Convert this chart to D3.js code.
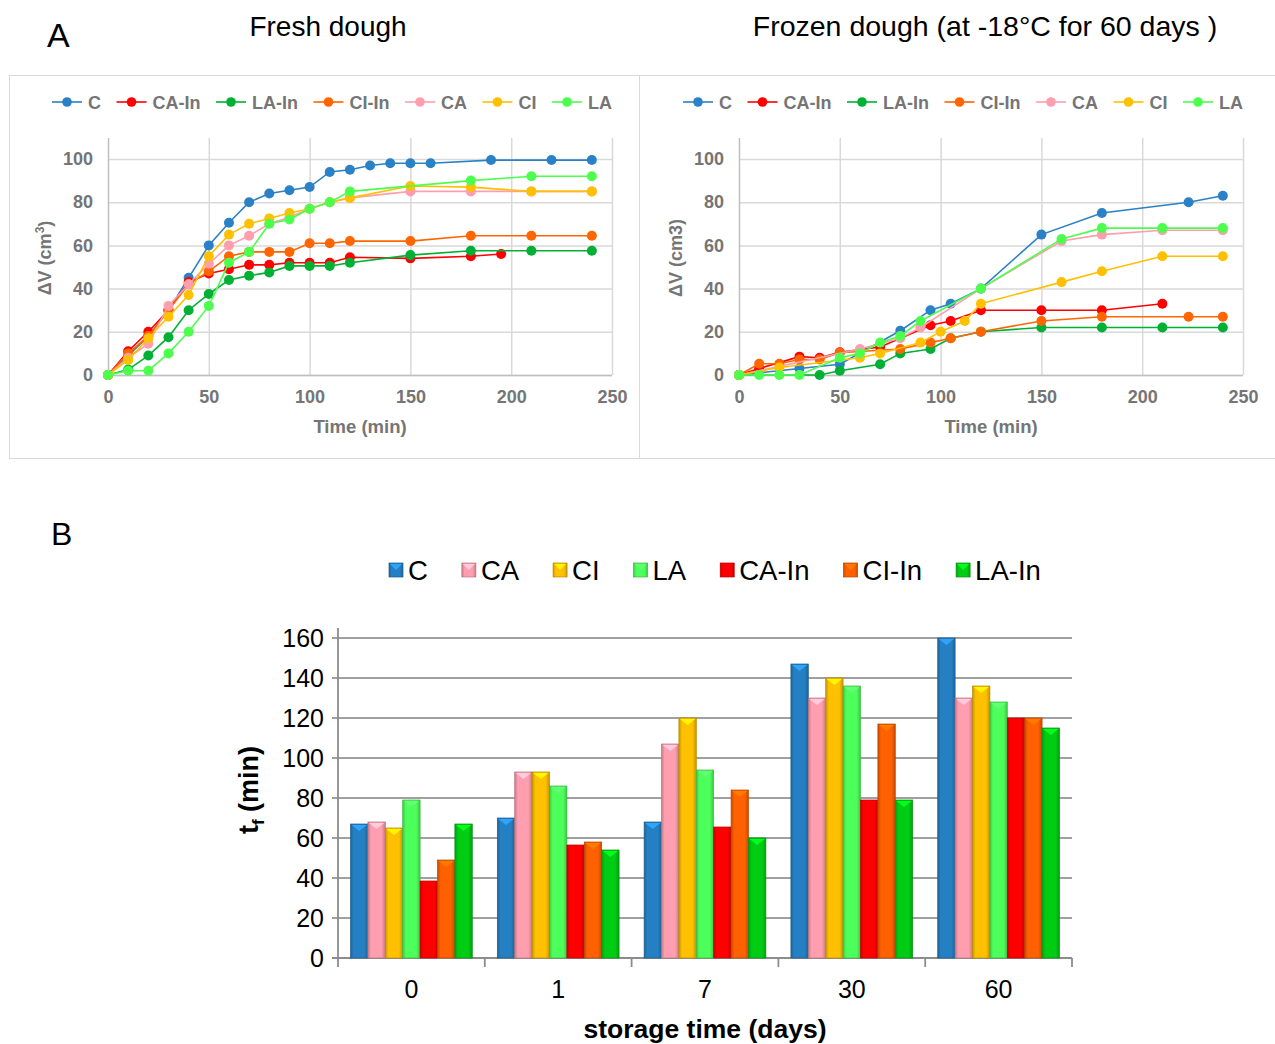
<!DOCTYPE html>
<html>
<head>
<meta charset="utf-8">
<script src="https://cdn.jsdelivr.net/npm/d3@7"></script>
<style>
body { margin: 0; background: #fff; }
svg { font-family: "Liberation Sans", Arial, sans-serif; }
</style>
</head>
<body>
<svg id="chart" width="1275" height="1044"></svg>
<script>
// fresh dough, [time (min), dV (cm3)]
var freshC = [[0,0],[10,9],[20,18],[30,30],[40,45],[50,60],[60,70.5],[70,80],[80,84],[90,85.5],[100,87],[110,94],[120,95],[130,97],[140,98],[150,98],[160,98],[190,99.5],[220,99.5],[240,99.5]];
var freshCAIn = [[0,0],[10,11],[20,20],[30,30],[40,43],[50,47],[60,49],[70,51],[80,51],[90,52],[100,52],[110,52],[120,54.5],[150,54],[180,55],[195,56]];
var freshLAIn = [[0,0],[10,2.5],[20,9],[30,17.5],[40,30],[50,37.5],[60,44],[70,46],[80,47.5],[90,50.5],[100,50.5],[110,50.5],[120,52],[150,55.5],[180,57.5],[210,57.5],[240,57.5]];
var freshCIIn = [[0,0],[10,10],[20,18],[30,30],[40,42],[50,48],[60,55],[70,57],[80,57],[90,57],[100,61],[110,61],[120,62],[150,62],[180,64.5],[210,64.5],[240,64.5]];
var freshCA = [[0,0],[10,8],[20,14.5],[30,32],[40,42],[50,51.5],[60,60],[70,64.5],[80,70],[90,73],[100,77],[110,80],[120,82],[150,85],[180,85],[210,85],[240,85]];
var freshCI = [[0,0],[10,7],[20,17],[30,27],[40,37],[50,55],[60,65],[70,70],[80,72.5],[90,75],[100,77],[110,80],[120,82],[150,87.5],[180,87],[210,85],[240,85]];
var freshLA = [[0,0],[10,2],[20,2],[30,10],[40,20],[50,32],[60,52],[70,57],[80,70],[90,72],[100,77],[110,80],[120,85],[180,90],[210,92],[240,92]];

// frozen dough (-18 C, 60 days), [time (min), dV (cm3)]
var frozenC = [[0,0],[30,3],[50,5],[80,20.5],[95,30],[105,33],[120,40],[150,65],[180,75],[223,80],[240,83]];
var frozenCAIn = [[0,0],[10,3],[30,8.5],[40,8],[50,10.5],[70,13],[95,23],[105,25],[120,30],[150,30],[180,30],[210,33]];
var frozenLAIn = [[0,0],[40,0],[50,2],[70,5],[80,10],[95,12],[105,17],[120,20],[150,22],[180,22],[210,22],[240,22]];
var frozenCIIn = [[0,0],[10,5.2],[20,5.2],[30,7.2],[40,7.2],[50,10.3],[80,12],[95,15],[105,17],[120,20],[150,25],[180,27],[223,27],[240,27]];
var frozenCA = [[0,0],[60,12],[80,17],[90,22],[120,40],[160,62],[180,65],[210,67],[240,67]];
var frozenCI = [[0,0],[20,3.5],[60,8],[70,10],[90,15],[100,20],[112,25],[120,33],[160,43],[180,48],[210,55],[240,55]];
var frozenLA = [[0,0],[10,0],[20,0],[30,0],[50,8],[60,10],[70,15],[80,18],[90,25],[120,40],[160,63],[180,68],[210,68],[240,68]];

var lineNames = ["C", "CA-In", "LA-In", "CI-In", "CA", "CI", "LA"];
var lineColors = ["#2a81c5", "#ff0000", "#00b035", "#ff6600", "#ff9eae", "#ffc000", "#4dff4d"];
var timeTicks = [0, 50, 100, 150, 200, 250];
var volTicks = [0, 20, 40, 60, 80, 100];

// fermentation time t_f (min) per storage day
var days = ["0", "1", "7", "30", "60"];
var barC = [67, 70, 68, 147, 160];
var barCA = [68, 93, 107, 130, 130];
var barCI = [65, 93, 120, 140, 136];
var barLA = [79, 86, 94, 136, 128];
var barCAIn = [38.5, 56.5, 65.5, 79, 120];
var barCIIn = [49, 58, 84, 117, 120];
var barLAIn = [67, 54, 60, 79, 115];
var barNames = ["C", "CA", "CI", "LA", "CA-In", "CI-In", "LA-In"];
var barColors = ["#2580c3", "#ff9eae", "#ffc000", "#4dff5a", "#ff0000", "#ff6000", "#00cc14"];
var tfTicks = [0, 20, 40, 60, 80, 100, 120, 140, 160];

var svg = d3.select("#chart");
var grey = "#757575";

// panel frames
svg.append("rect").attr("x", 9.5).attr("y", 75.5).attr("width", 630).attr("height", 383)
	.attr("fill", "none").attr("stroke", "#d9d9d9");
svg.append("rect").attr("x", 639.5).attr("y", 75.5).attr("width", 640).attr("height", 383)
	.attr("fill", "none").attr("stroke", "#d9d9d9");

svg.append("text").attr("x", 47).attr("y", 47).attr("font-size", 34).text("A");
svg.append("text").attr("x", 51).attr("y", 545).attr("font-size", 32).text("B");
svg.append("text").attr("x", 328).attr("y", 36).attr("font-size", 28).attr("text-anchor", "middle").text("Fresh dough");
svg.append("text").attr("x", 985).attr("y", 36).attr("font-size", 28.5).attr("text-anchor", "middle").text("Frozen dough (at -18°C for 60 days )");

function lineChart(left, data, supLabel) {
	var g = svg.append("g");
	var x = d3.scaleLinear().domain([0, 250]).range([left, left + 504]);
	var y = d3.scaleLinear().domain([0, 100]).range([375, 159]);

	g.selectAll(".hgrid").data(volTicks).enter().append("line")
		.attr("x1", x(0)).attr("x2", x(250))
		.attr("y1", function (d) { return y(d) + 0.5; })
		.attr("y2", function (d) { return y(d) + 0.5; })
		.attr("stroke", "#d9d9d9").attr("stroke-width", 1.5);
	g.selectAll(".vgrid").data(timeTicks).enter().append("line")
		.attr("x1", function (d) { return x(d) + 0.5; })
		.attr("x2", function (d) { return x(d) + 0.5; })
		.attr("y1", 138).attr("y2", y(0))
		.attr("stroke", function (d) { return d == 0 ? "#bfbfbf" : "#d9d9d9"; })
		.attr("stroke-width", 1.5);
	g.append("line").attr("x1", x(0)).attr("x2", x(250)).attr("y1", y(0) + 0.5).attr("y2", y(0) + 0.5)
		.attr("stroke", "#bfbfbf").attr("stroke-width", 1.5);

	var yAxis = g.append("g").attr("transform", "translate(" + x(0) + ",0)")
		.call(d3.axisLeft(y).tickValues(volTicks).tickSize(0).tickPadding(15));
	var xAxis = g.append("g").attr("transform", "translate(0," + y(0) + ")")
		.call(d3.axisBottom(x).tickValues(timeTicks).tickSize(0).tickPadding(15));
	[xAxis, yAxis].forEach(function (a) {
		a.select(".domain").remove();
		a.selectAll("text").attr("font-size", 18).attr("font-weight", "bold")
			.attr("fill", grey).attr("font-family", "Liberation Sans, Arial, sans-serif");
	});

	g.append("text").attr("x", x(125)).attr("y", 433).attr("text-anchor", "middle")
		.attr("font-size", 18.5).attr("font-weight", "bold").attr("fill", grey).text("Time (min)");

	var yl = g.append("text").attr("transform", "translate(" + (left - 57) + ",258) rotate(-90)")
		.attr("text-anchor", "middle").attr("font-size", 18).attr("font-weight", "bold").attr("fill", grey);
	if (supLabel) {
		yl.append("tspan").text("\u0394V (cm");
		yl.append("tspan").attr("font-size", 12).attr("dy", -7).text("3");
		yl.append("tspan").attr("dy", 7).text(")");
	} else {
		yl.text("\u0394V (cm3)");
	}

	var line = d3.line()
		.x(function (d) { return x(d[0]); })
		.y(function (d) { return y(d[1]); });

	data.forEach(function (s, i) {
		g.append("path").datum(s).attr("d", line)
			.attr("fill", "none").attr("stroke", lineColors[i]).attr("stroke-width", 1.6);
		g.selectAll(".pt" + i).data(s).enter().append("circle")
			.attr("cx", function (d) { return x(d[0]); })
			.attr("cy", function (d) { return y(d[1]); })
			.attr("r", 5).attr("fill", lineColors[i]);
	});

	// legend
	var sx = left - 56;
	lineNames.forEach(function (n, i) {
		var lg = g.append("g");
		lg.append("line").attr("x1", sx).attr("x2", sx + 30).attr("y1", 102).attr("y2", 102)
			.attr("stroke", lineColors[i]).attr("stroke-width", 1.6);
		lg.append("circle").attr("cx", sx + 15).attr("cy", 102).attr("r", 4.8).attr("fill", lineColors[i]);
		var t = lg.append("text").attr("x", sx + 36).attr("y", 108.5).attr("font-size", 18)
			.attr("font-weight", "bold").attr("fill", grey).text(n);
		sx = sx + 36 + t.node().getComputedTextLength() + 15.5;
	});
}

lineChart(108, [freshC, freshCAIn, freshLAIn, freshCIIn, freshCA, freshCI, freshLA], true);
lineChart(739, [frozenC, frozenCAIn, frozenLAIn, frozenCIIn, frozenCA, frozenCI, frozenLA], false);

// ---- bar chart B ----
var barData = [barC, barCA, barCI, barLA, barCAIn, barCIIn, barLAIn];
var defs = svg.append("defs");
barColors.forEach(function (c, i) {
	var dk = d3.color(c).darker(0.7).formatHex();
	var grad = defs.append("linearGradient").attr("id", "bg" + i).attr("x1", 0).attr("x2", 1).attr("y1", 0).attr("y2", 0);
	grad.append("stop").attr("offset", "0%").attr("stop-color", dk);
	grad.append("stop").attr("offset", "18%").attr("stop-color", c);
	grad.append("stop").attr("offset", "78%").attr("stop-color", c);
	grad.append("stop").attr("offset", "100%").attr("stop-color", dk);
});

var x0 = d3.scaleBand().domain(days).range([338, 1072]);
var x1 = d3.scaleBand().domain(barNames).range([0, x0.bandwidth()]).paddingInner(0).paddingOuter(0.72);
var yb = d3.scaleLinear().domain([0, 160]).range([958, 638]);

var bg = svg.append("g");
bg.selectAll(".grid").data(tfTicks).enter().append("line")
	.attr("x1", 332).attr("x2", 1072)
	.attr("y1", function (d) { return yb(d); })
	.attr("y2", function (d) { return yb(d); })
	.attr("stroke", function (d) { return d == 0 ? "#8c8c8c" : "#a0a0a0"; })
	.attr("stroke-width", 1.8);
bg.append("line").attr("x1", 338).attr("x2", 338).attr("y1", 628).attr("y2", 958)
	.attr("stroke", "#8c8c8c").attr("stroke-width", 1.8);
bg.selectAll(".xt").data(d3.range(days.length + 1)).enter().append("line")
	.attr("x1", function (d) { return 338 + d * x0.step(); })
	.attr("x2", function (d) { return 338 + d * x0.step(); })
	.attr("y1", 958).attr("y2", 967)
	.attr("stroke", "#8c8c8c").attr("stroke-width", 1.8);

var yAx = bg.append("g").attr("transform", "translate(332,0)")
	.call(d3.axisLeft(yb).tickValues(tfTicks).tickSize(0).tickPadding(8));
var xAx = bg.append("g").attr("transform", "translate(0,958)")
	.call(d3.axisBottom(x0).tickSize(0).tickPadding(22));
[yAx, xAx].forEach(function (a) {
	a.select(".domain").remove();
	a.selectAll("text").attr("font-size", 25).attr("fill", "#000")
		.attr("font-family", "Liberation Sans, Arial, sans-serif");
});

barData.forEach(function (vals, i) {
	var light = d3.color(barColors[i]).brighter(0.7).formatHex();
	var grp = bg.selectAll(".bar" + i).data(vals).enter().append("g");
	grp.append("rect")
		.attr("x", function (d, j) { return x0(days[j]) + x1(barNames[i]); })
		.attr("y", function (d) { return yb(d); })
		.attr("width", x1.bandwidth())
		.attr("height", function (d) { return yb(0) - yb(d); })
		.attr("fill", "url(#bg" + i + ")")
		.attr("stroke", d3.color(barColors[i]).darker(0.9).formatHex()).attr("stroke-width", 0.7);
	grp.append("path")
		.attr("d", function (d, j) {
			var bx = x0(days[j]) + x1(barNames[i]), w = x1.bandwidth(), by = yb(d);
			return "M" + (bx + 1) + "," + (by + 1) + "L" + (bx + w - 1) + "," + (by + 1) + "L" + (bx + w / 2) + "," + (by + 7) + "Z";
		})
		.attr("fill", light);
});

bg.append("text").attr("x", 705).attr("y", 1038).attr("text-anchor", "middle")
	.attr("font-size", 26.5).attr("font-weight", "bold").text("storage time (days)");
var tl = bg.append("text").attr("transform", "translate(258,790) rotate(-90)")
	.attr("text-anchor", "middle").attr("font-size", 27).attr("font-weight", "bold");
tl.append("tspan").text("t");
tl.append("tspan").attr("font-size", 17).attr("dy", 6).text("f");
tl.append("tspan").attr("dy", -6).text(" (min)");

// bar legend
var lx = 389;
barNames.forEach(function (n, i) {
	var light = d3.color(barColors[i]).brighter(0.7).formatHex();
	bg.append("rect").attr("x", lx).attr("y", 563).attr("width", 14).attr("height", 14)
		.attr("fill", "url(#bg" + i + ")")
		.attr("stroke", d3.color(barColors[i]).darker(0.9).formatHex()).attr("stroke-width", 0.7);
	bg.append("path").attr("d", "M" + (lx + 1) + ",564L" + (lx + 13) + ",564L" + (lx + 7) + ",570Z").attr("fill", light);
	var t = bg.append("text").attr("x", lx + 19).attr("y", 580).attr("font-size", 27.5).text(n);
	lx = lx + 19 + t.node().getComputedTextLength() + 34;
});
</script>
</body>
</html>
